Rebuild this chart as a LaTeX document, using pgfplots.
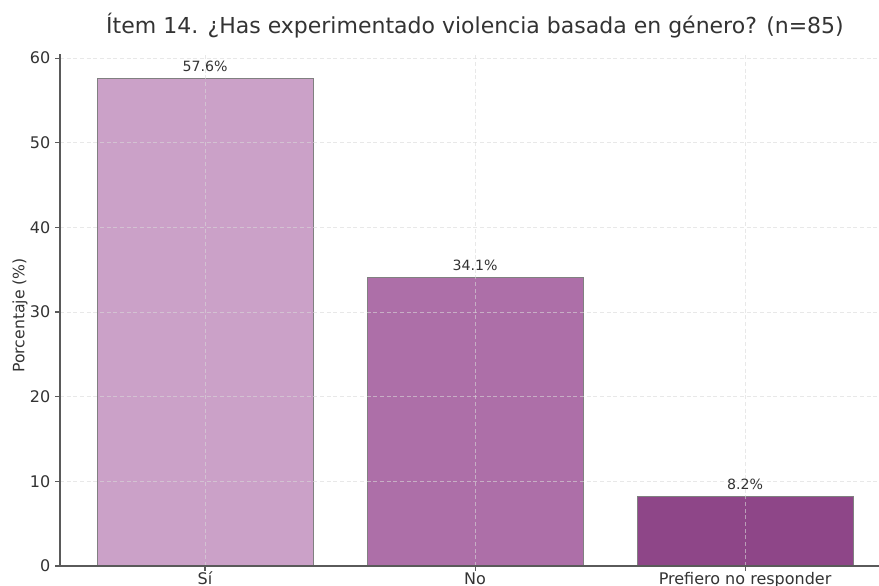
\documentclass[border=0pt]{standalone}
\usepackage{fontspec}
\setmainfont{DejaVu Sans}
\usepackage{pgfplots}
\pgfplotsset{compat=1.18}
\definecolor{c1}{RGB}{203,161,200}
\definecolor{c2}{RGB}{173,111,168}
\definecolor{c3}{RGB}{142,70,136}
\definecolor{txt}{RGB}{51,51,51}
\definecolor{spine}{RGB}{90,90,90}
\begin{document}
\begin{tikzpicture}
\useasboundingbox (-45pt,-15pt) rectangle (614.25pt,424.5pt);
\begin{axis}[
  at={(0,0)}, anchor=south west,
  scale only axis, width=614.25pt, height=384pt,
  xmin=-0.537, xmax=2.496, ymin=0, ymax=60.48,
  axis x line*=bottom, axis y line*=left,
  axis line style={draw=spine, line width=0.8pt, -},
  xtick={0,1,2}, xticklabels={Sí, No, Prefiero no responder},
  ytick={0,10,20,30,40,50,60},
  tick align=outside, major tick length=3.7pt,
  tick style={draw=spine, line width=0.8pt},
  ticklabel style={font=\fontsize{12}{14}\selectfont, text=txt},
  xticklabel style={anchor=base, yshift=-10pt},
  /pgf/number format/assume math mode=true,
  xmajorgrids, ymajorgrids,
  major grid style={densely dashed, draw=gray!30, line width=0.6pt, opacity=0.6},
  axis on top,
  ybar, bar width=0.8, bar shift=0pt,
  nodes near coords={\pgfmathprintnumber[fixed,precision=1,fixed zerofill]{\pgfplotspointmeta}\%},
  every node near coord/.append style={font=\fontsize{10.6}{12}\selectfont, text=txt, anchor=base, yshift=5pt},
]
\addplot[fill=c1, draw=black!50, line width=0.7pt] coordinates {(0,57.6)};
\addplot[fill=c2, draw=black!50, line width=0.7pt] coordinates {(1,34.1)};
\addplot[fill=c3, draw=black!50, line width=0.7pt] coordinates {(2,8.2)};
\end{axis}
\node[rotate=90, text=txt, font=\fontsize{11.75}{13}\selectfont] at (-30pt,188pt) {Porcentaje (\%)};
\node[anchor=base, text=txt, font=\fontsize{16.5}{19}\selectfont] at (311.25pt,399pt) {Ítem 14. ¿Has experimentado violencia basada en género? (n=85)};
\end{tikzpicture}
\end{document}
